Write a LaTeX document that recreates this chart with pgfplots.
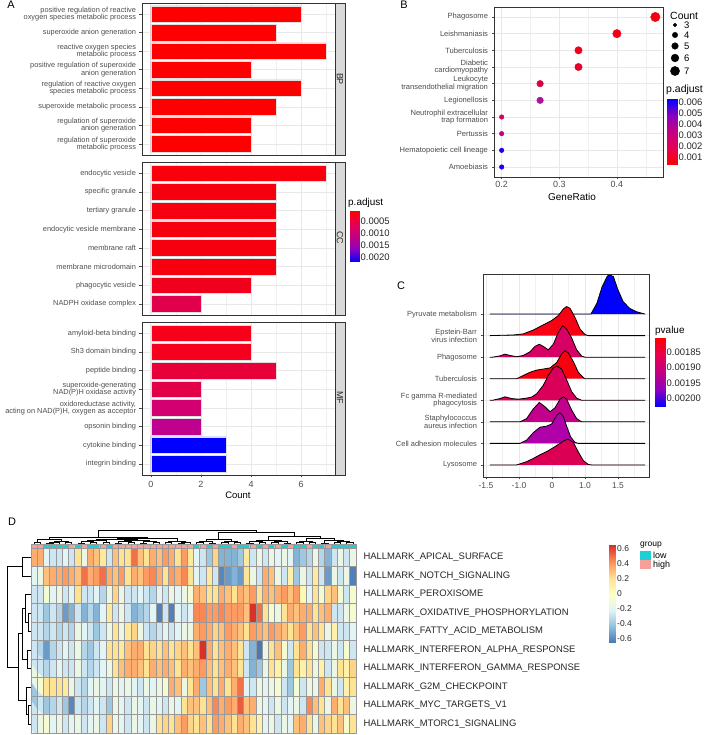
\documentclass[border=0pt]{standalone}
\usepackage{fontspec}
\setmainfont{Liberation Sans}
\usepackage{pgfplots}
\pgfplotsset{compat=1.18}
\newcommand{\fs}[1]{\fontsize{#1}{#1}\selectfont}
\definecolor{cR}{RGB}{255,0,0}
\definecolor{cc1}{RGB}{250,0,12}
\definecolor{cc2}{RGB}{246,0,16}
\definecolor{cc3}{RGB}{240,0,28}
\definecolor{cc4}{RGB}{224,0,75}
\definecolor{mf1}{RGB}{248,0,25}
\definecolor{mf2}{RGB}{245,0,30}
\definecolor{mf3}{RGB}{232,0,58}
\definecolor{mf4}{RGB}{226,0,72}
\definecolor{mf5}{RGB}{210,0,112}
\definecolor{mf6}{RGB}{192,0,142}
\definecolor{cB}{RGB}{0,0,255}
\definecolor{b1}{RGB}{242,0,16}
\definecolor{b2}{RGB}{240,0,20}
\definecolor{b3}{RGB}{236,0,28}
\definecolor{b4}{RGB}{228,0,42}
\definecolor{b5}{RGB}{216,0,64}
\definecolor{b6}{RGB}{170,20,160}
\definecolor{b7}{RGB}{214,0,100}
\definecolor{b8}{RGB}{195,0,135}
\definecolor{b9}{RGB}{25,0,240}
\definecolor{c1}{RGB}{0,0,255}
\definecolor{c2}{RGB}{250,0,20}
\definecolor{c3}{RGB}{215,0,100}
\definecolor{c4}{RGB}{250,0,15}
\definecolor{c5}{RGB}{218,0,90}
\definecolor{c6}{RGB}{195,0,140}
\definecolor{c7}{RGB}{175,0,170}
\definecolor{c8}{RGB}{220,0,85}
\definecolor{lowc}{RGB}{30,208,214}
\definecolor{highc}{RGB}{245,160,152}
\pgfplotsset{
 /pgf/number format/assume math mode=true,
 colormap={heat}{rgb255=(69,117,180) rgb255=(145,191,219) rgb255=(224,243,248) rgb255=(255,255,191) rgb255=(254,224,144) rgb255=(252,141,89) rgb255=(215,48,39)},
 colormap={rb}{rgb255=(255,0,0) rgb255=(230,0,80) rgb255=(195,0,130) rgb255=(140,0,190) rgb255=(0,0,255)},
 gg/.style={scale only axis, anchor=south west, axis line style={draw=black!80, line width=0.7bp},
   grid=both, major grid style={draw=black!9, line width=0.6bp}, minor grid style={draw=black!6, line width=0.35bp},
   tick style={draw=black!70, line width=0.5bp}, major tick length=2.5bp, minor tick length=0pt,
   tick align=outside, xtick pos=bottom, ytick pos=left, ticklabel style={text=black!70}},
 cbar/.style={scale only axis, anchor=south west, xmin=0, xmax=1, xtick=\empty,
   axis line style={draw=none}, tick style={draw=white, line width=0.6bp}, major tick length=2bp,
   tick align=inside, ytick pos=both, yticklabel pos=right,
   yticklabel style={font=\fs{9.5}, text=black!85, inner sep=1.5bp}},
 dend/.style={black, line width=0.5bp, forget plot},
}
\newcommand{\dl}[5]{\addplot[dend] coordinates {(#1,#2) (#1,#5) (#3,#5) (#3,#4)};}
\newcommand{\dr}[5]{\addplot[dend] coordinates {(#2,#1) (#5,#1) (#5,#3) (#4,#3)};}
\begin{document}
\begin{tikzpicture}
% ---------- overlay in pixel coordinates ----------
\begin{axis}[scale only axis, anchor=south west, at={(0bp,0bp)}, width=708bp, height=735bp,
  xmin=0, xmax=708, ymin=0, ymax=735, y dir=reverse, hide axis, clip=false]
 \node[font=\fs{11}] at (axis cs:11,5) {A};
 \node[font=\fs{11}] at (axis cs:404,5) {B};
 \node[font=\fs{11}] at (axis cs:401,286) {C};
 \node[font=\fs{11}] at (axis cs:12,522) {D};
 % strips
 \draw[fill=black!15, draw=black!80, line width=0.7bp] (axis cs:335,3) rectangle (axis cs:345,155);
 \draw[fill=black!15, draw=black!80, line width=0.7bp] (axis cs:335,162) rectangle (axis cs:345,315);
 \draw[fill=black!15, draw=black!80, line width=0.7bp] (axis cs:335,322) rectangle (axis cs:345,475);
 \node[rotate=-90, font=\fs{9}, text=black!85] at (axis cs:340,79) {BP};
 \node[rotate=-90, font=\fs{9}, text=black!85] at (axis cs:340,238) {CC};
 \node[rotate=-90, font=\fs{9}, text=black!85] at (axis cs:340,398) {MF};
 % axis titles
 \node[font=\fs{9.5}] at (axis cs:238,495) {Count};
 \node[font=\fs{10}] at (axis cs:572,197) {GeneRatio};
 % legend A
 \node[anchor=west, font=\fs{10}, inner sep=0pt] at (axis cs:348,203) {p.adjust};
 % legend B
 \node[anchor=west, font=\fs{10.5}, inner sep=0pt] at (axis cs:670,16) {Count};
 \addplot[only marks, mark=*, black, mark size=1.8bp] coordinates {(675,25)};
 \addplot[only marks, mark=*, black, mark size=2.7bp] coordinates {(675,35)};
 \addplot[only marks, mark=*, black, mark size=3.3bp] coordinates {(675,46)};
 \addplot[only marks, mark=*, black, mark size=3.9bp] coordinates {(675,58)};
 \addplot[only marks, mark=*, black, mark size=4.6bp] coordinates {(675,71)};
 \node[anchor=west, font=\fs{9.5}, inner sep=0pt] at (axis cs:684,25) {3};
 \node[anchor=west, font=\fs{9.5}, inner sep=0pt] at (axis cs:684,35) {4};
 \node[anchor=west, font=\fs{9.5}, inner sep=0pt] at (axis cs:684,46) {5};
 \node[anchor=west, font=\fs{9.5}, inner sep=0pt] at (axis cs:684,58) {6};
 \node[anchor=west, font=\fs{9.5}, inner sep=0pt] at (axis cs:684,71) {7};
 \node[anchor=west, font=\fs{10.5}, inner sep=0pt] at (axis cs:666,90) {p.adjust};
 % legend C
 \node[anchor=west, font=\fs{10}, inner sep=0pt] at (axis cs:655,331) {pvalue};
 % legend D
 \node[anchor=west, font=\fs{8.5}, inner sep=0pt] at (axis cs:640,545) {group};
 \draw[fill=lowc, draw=none] (axis cs:640,551) rectangle (axis cs:651,560);
 \draw[fill=highc, draw=none] (axis cs:640,560) rectangle (axis cs:651,569);
 \node[anchor=west, font=\fs{9}, inner sep=0pt] at (axis cs:653,555.5) {low};
 \node[anchor=west, font=\fs{9}, inner sep=0pt] at (axis cs:653,565) {high};
\end{axis}

% ---------- Panel A ----------
\begin{axis}[gg, at={(142bp,580bp)}, width=193bp, height=152bp,
  xmin=-0.35, xmax=7.35, ymin=0.4, ymax=8.6, y dir=reverse,
  xtick={0,2,4,6}, minor xtick={1,3,5,7}, xticklabels={}, xtick style={draw=none},
  ytick={1,...,8},
  yticklabels={{positive regulation of reactive\\oxygen species metabolic process},{superoxide anion generation},{reactive oxygen species\\metabolic process},{positive regulation of superoxide\\anion generation},{regulation of reactive oxygen\\species metabolic process},{superoxide metabolic process},{regulation of superoxide\\anion generation},{regulation of superoxide\\metabolic process}},
  yticklabel style={align=right, font=\fs{7.4}}]
 \addplot[xbar, bar shift=0pt, bar width=0.9, fill=cR, draw=black!12, line width=0.4bp] coordinates {(6,1) (5,2) (7,3) (4,4) (6,5) (5,6) (4,7) (4,8)};
\end{axis}
\begin{axis}[gg, at={(142bp,420bp)}, width=193bp, height=153bp,
  xmin=-0.35, xmax=7.35, ymin=0.4, ymax=8.6, y dir=reverse,
  xtick={0,2,4,6}, minor xtick={1,3,5,7}, xticklabels={}, xtick style={draw=none},
  ytick={1,...,8},
  yticklabels={endocytic vesicle, specific granule, tertiary granule, endocytic vesicle membrane, membrane raft, membrane microdomain, phagocytic vesicle, NADPH oxidase complex},
  yticklabel style={align=right, font=\fs{7.4}}]
 \addplot[xbar, bar shift=0pt, bar width=0.9, fill=cc1, draw=black!12, line width=0.4bp] coordinates {(7,1)};
 \addplot[xbar, bar shift=0pt, bar width=0.9, fill=cc2, draw=black!12, line width=0.4bp] coordinates {(5,2) (5,3) (5,4) (5,5) (5,6)};
 \addplot[xbar, bar shift=0pt, bar width=0.9, fill=cc3, draw=black!12, line width=0.4bp] coordinates {(4,7)};
 \addplot[xbar, bar shift=0pt, bar width=0.9, fill=cc4, draw=black!12, line width=0.4bp] coordinates {(2,8)};
\end{axis}
\begin{axis}[gg, at={(142bp,260bp)}, width=193bp, height=153bp,
  xmin=-0.35, xmax=7.35, ymin=0.4, ymax=8.6, y dir=reverse,
  xtick={0,2,4,6}, minor xtick={1,3,5,7}, xticklabels={0,2,4,6},
  xticklabel style={font=\fs{9}},
  ytick={1,...,8},
  yticklabels={amyloid-beta binding, Sh3 domain binding, peptide binding, {superoxide-generating\\NAD(P)H oxidase activity}, {oxidoreductase activity,\\acting on NAD(P)H, oxygen as acceptor}, opsonin binding, cytokine binding, integrin binding},
  yticklabel style={align=right, font=\fs{7.4}}]
 \addplot[xbar, bar shift=0pt, bar width=0.9, fill=mf1, draw=black!12, line width=0.4bp] coordinates {(4,1)};
 \addplot[xbar, bar shift=0pt, bar width=0.9, fill=mf2, draw=black!12, line width=0.4bp] coordinates {(4,2)};
 \addplot[xbar, bar shift=0pt, bar width=0.9, fill=mf3, draw=black!12, line width=0.4bp] coordinates {(5,3)};
 \addplot[xbar, bar shift=0pt, bar width=0.9, fill=mf4, draw=black!12, line width=0.4bp] coordinates {(2,4)};
 \addplot[xbar, bar shift=0pt, bar width=0.9, fill=mf5, draw=black!12, line width=0.4bp] coordinates {(2,5)};
 \addplot[xbar, bar shift=0pt, bar width=0.9, fill=mf6, draw=black!12, line width=0.4bp] coordinates {(2,6)};
 \addplot[xbar, bar shift=0pt, bar width=0.9, fill=cB, draw=black!12, line width=0.4bp] coordinates {(3,7) (3,8)};
\end{axis}
% colorbar A
\begin{axis}[cbar, at={(350bp,473bp)}, width=9bp, height=51bp, ymin=0.83, ymax=22.1, y dir=reverse,
  ytick={5,10,15,20}, yticklabels={0.0005,0.0010,0.0015,0.0020}]
 \addplot[surf, shader=interp, colormap name=rb, point meta=y, mesh/rows=2] coordinates {(0,0.83) (1,0.83) (0,22.1) (1,22.1)};
\end{axis}

% ---------- Panel B ----------
\begin{axis}[gg, at={(494bp,558bp)}, width=169bp, height=170bp,
  xmin=0.1867, xmax=0.48, ymin=0.4, ymax=10.6, y dir=reverse,
  xtick={0.2,0.3,0.4}, xticklabels={0.2,0.3,0.4}, minor xtick={0.25,0.35,0.45},
  xticklabel style={font=\fs{9}, inner sep=1.5bp},
  ytick={1,...,10},
  yticklabels={Phagosome, Leishmaniasis, Tuberculosis, {Diabetic\\cardiomyopathy}, {Leukocyte\\transendothelial migration}, Legionellosis, {Neutrophil extracellular\\trap formation}, Pertussis, Hematopoietic cell lineage, Amoebiasis},
  yticklabel style={align=right, font=\fs{7.6}}]
 \addplot[only marks, mark=*, color=b1, mark size=4.7bp] coordinates {(0.4667,1)};
 \addplot[only marks, mark=*, color=b2, mark size=4.2bp] coordinates {(0.4,2)};
 \addplot[only marks, mark=*, color=b3, mark size=3.7bp] coordinates {(0.3333,3)};
 \addplot[only marks, mark=*, color=b4, mark size=3.7bp] coordinates {(0.3333,4)};
 \addplot[only marks, mark=*, color=b5, mark size=3.3bp] coordinates {(0.2667,5)};
 \addplot[only marks, mark=*, color=b6, mark size=3.3bp] coordinates {(0.2667,6)};
 \addplot[only marks, mark=*, color=b7, mark size=2.3bp] coordinates {(0.2,7)};
 \addplot[only marks, mark=*, color=b8, mark size=2.3bp] coordinates {(0.2,8)};
 \addplot[only marks, mark=*, color=b9, mark size=2.3bp] coordinates {(0.2,9)};
 \addplot[only marks, mark=*, color=b9, mark size=2.3bp] coordinates {(0.2,10)};
\end{axis}
% colorbar B
\begin{axis}[cbar, at={(667bp,570bp)}, width=10bp, height=66bp, ymin=0.27, ymax=6.27,
  ytick={1,2,3,4,5,6}, yticklabels={0.001,0.002,0.003,0.004,0.005,0.006}]
 \addplot[surf, shader=interp, colormap name=rb, point meta=y, mesh/rows=2] coordinates {(0,0.27) (1,0.27) (0,6.27) (1,6.27)};
\end{axis}

% ---------- Panel C ----------
\begin{axis}[gg, at={(483bp,258bp)}, width=166bp, height=203bp,
  xmin=-1.045, xmax=1.47, ymin=0.44, ymax=9.86,
  xtick={-1,-0.5,0,0.5,1}, xticklabels={-1.5,-1.0,0,1.0,1.5}, minor xtick={-0.75,-0.25,0.25,0.75,1.25},
  xticklabel style={font=\fs{8.5}},
  ytick={1,...,8},
  yticklabels={Lysosome, Cell adhesion molecules, {Staphylococcus\\aureus infection}, {Fc gamma R-mediated\\phagocytosis}, Tuberculosis, Phagosome, {Epstein-Barr\\virus infection}, Pyruvate metabolism},
  yticklabel style={align=right, font=\fs{7.5}}]
 \addplot[fill=c1, draw=black, line width=0.8bp] coordinates {(-0.94,8) (0.59,8) (0.68,8.5) (0.76,9.27) (0.84,9.77) (0.88,9.81) (0.93,9.74) (1.0,9.12) (1.08,8.57) (1.18,8.26) (1.28,8.11) (1.41,8)};
 \addplot[fill=c2, draw=black, line width=0.8bp] coordinates {(-0.94,7) (-0.586,7.03) (-0.435,7.08) (-0.283,7.26) (-0.131,7.5) (-0.005,7.7) (0.096,7.93) (0.172,8.24) (0.222,8.35) (0.273,8.27) (0.348,7.85) (0.424,7.31) (0.5,7.05) (0.55,7) (1.41,7)};
 \addplot[fill=c3, draw=black, line width=0.8bp] coordinates {(-0.94,6) (-0.9,6) (-0.788,6.06) (-0.712,6.14) (-0.636,6.08) (-0.535,6.02) (-0.435,6.08) (-0.333,6.25) (-0.258,6.5) (-0.192,6.6) (-0.131,6.5) (-0.056,6.34) (0.02,6.6) (0.096,7.15) (0.162,7.46) (0.222,7.3) (0.298,6.9) (0.374,6.34) (0.45,6.05) (0.5,6) (1.41,6)};
 \addplot[fill=c4, draw=black, line width=0.8bp] coordinates {(-0.94,5) (-0.535,5) (-0.435,5.15) (-0.333,5.3) (-0.232,5.4) (-0.131,5.45) (-0.03,5.5) (0.071,5.75) (0.146,6.15) (0.197,6.3) (0.247,6.2) (0.323,5.8) (0.399,5.3) (0.475,5.05) (0.5,5) (1.41,5)};
 \addplot[fill=c5, draw=black, line width=0.8bp] coordinates {(-0.94,4) (-0.9,4) (-0.788,4.08) (-0.712,4.16) (-0.61,4.08) (-0.51,4.05) (-0.384,4.1) (-0.308,4.15) (-0.232,4.3) (-0.131,4.7) (-0.056,5.15) (0.02,5.5) (0.081,5.58) (0.146,5.45) (0.222,4.95) (0.298,4.4) (0.374,4.1) (0.45,4) (1.41,4)};
 \addplot[fill=c6, draw=black, line width=0.8bp] coordinates {(-0.94,3) (-0.485,3) (-0.384,3.15) (-0.283,3.6) (-0.192,3.9) (-0.106,3.7) (-0.03,3.47) (0.046,3.65) (0.121,4.05) (0.172,4.16) (0.222,4.05) (0.298,3.55) (0.374,3.15) (0.45,3) (1.41,3)};
 \addplot[fill=c7, draw=black, line width=0.8bp] coordinates {(-0.94,2) (-0.485,2) (-0.384,2.15) (-0.283,2.5) (-0.182,2.75) (-0.08,2.8) (-0.005,2.9) (0.071,3.3) (0.121,3.43) (0.172,3.25) (0.222,2.8) (0.283,2.3) (0.348,2.05) (0.4,2) (1.41,2)};
 \addplot[fill=c8, draw=black, line width=0.8bp] coordinates {(-0.94,1) (-0.535,1) (-0.384,1.15) (-0.283,1.3) (-0.182,1.47) (-0.08,1.62) (0.02,1.8) (0.121,2.0) (0.197,2.15) (0.247,2.19) (0.323,2.05) (0.399,1.6) (0.475,1.2) (0.55,1.02) (0.6,1) (1.41,1)};
\end{axis}
% colorbar C
\begin{axis}[cbar, at={(655bp,328bp)}, width=10bp, height=69bp, ymin=18.04, ymax=20.29, y dir=reverse,
  ytick={18.5,19,19.5,20}, yticklabels={0.00185,0.00190,0.00195,0.00200}]
 \addplot[surf, shader=interp, colormap name=rb, point meta=y, mesh/rows=2] coordinates {(0,18.04) (1,18.04) (0,20.29) (1,20.29)};
\end{axis}

% ---------- Panel D ----------
% top dendrogram
\begin{axis}[scale only axis, anchor=south west, at={(31bp,191bp)}, width=325bp, height=17bp,
  xmin=0.5, xmax=52.5, ymin=0, ymax=17, hide axis, clip=false]
 \dl{1}{0}{2}{0}{1.5} \dl{3}{0}{4}{0}{1.2} \dl{3.5}{1.2}{5}{0}{2.2} \dl{6}{0}{7}{0}{1.5}
 \dl{4.25}{2.2}{6.5}{1.5}{3} \dl{1.5}{1.5}{5.375}{3}{4.5}
 \dl{8}{0}{9}{0}{1.2} \dl{10}{0}{11}{0}{1.6} \dl{8.5}{1.2}{10.5}{1.6}{2.6} \dl{12}{0}{13}{0}{2}
 \dl{9.5}{2.6}{12.5}{2}{3.6}
 \dl{14}{0}{15}{0}{1.2} \dl{16}{0}{17}{0}{1.6} \dl{14.5}{1.2}{16.5}{1.6}{2.4}
 \dl{18}{0}{19}{0}{1.2} \dl{20}{0}{21}{0}{2} \dl{18.5}{1.2}{20.5}{2}{3} \dl{15.5}{2.4}{19.5}{3}{4}
 \dl{22}{0}{23}{0}{1.6} \dl{24}{0}{25}{0}{1.2} \dl{24.5}{1.2}{26}{0}{2.2} \dl{22.5}{1.6}{25.25}{2.2}{3.2}
 \dl{11}{3.6}{17.5}{4}{5} \dl{14.25}{5}{23.875}{3.2}{6} \dl{3.4375}{4.5}{19.0625}{6}{7}
 \dl{27}{0}{28}{0}{1.6} \dl{29}{0}{30}{0}{1.2} \dl{27.5}{1.6}{29.5}{1.2}{2.8}
 \dl{31}{0}{32}{0}{1.6} \dl{33}{0}{34}{0}{2} \dl{31.5}{1.6}{33.5}{2}{3.2} \dl{28.5}{2.8}{32.5}{3.2}{5}
 \dl{35}{0}{36}{0}{1.2} \dl{37}{0}{38}{0}{1.6} \dl{35.5}{1.2}{37.5}{1.6}{2.6}
 \dl{39}{0}{40}{0}{1.6} \dl{41}{0}{42}{0}{1.2} \dl{39.5}{1.6}{41.5}{1.2}{2.8} \dl{36.5}{2.6}{40.5}{2.8}{4.2}
 \dl{43}{0}{44}{0}{1.6} \dl{45}{0}{46}{0}{2} \dl{43.5}{1.6}{45.5}{2}{3.2}
 \dl{47}{0}{48}{0}{1.2} \dl{49}{0}{50}{0}{1.6} \dl{51}{0}{52}{0}{2} \dl{49.5}{1.6}{51.5}{2}{3}
 \dl{47.5}{1.2}{50.5}{3}{4} \dl{44.5}{3.2}{49}{4}{5.5} \dl{38.5}{4.2}{46.75}{5.5}{8}
 \dl{30.5}{5}{42.625}{8}{12} \dl{11.25}{7}{36.5625}{12}{14}
\end{axis}
% group annotation
\begin{axis}[scale only axis, anchor=south west, at={(31bp,187bp)}, width=325bp, height=4bp,
  xmin=0.5, xmax=52.5, ymin=0, ymax=1, axis line style={draw=black!40, line width=0.5bp}, xtick=\empty, ytick=\empty]
 \addplot[ybar, bar shift=0pt, bar width=1, fill=lowc, draw=black!40, line width=0.4bp] coordinates {(3,1) (4,1) (5,1) (6,1) (8,1) (10,1) (11,1) (13,1) (27,1) (29,1) (31,1) (32,1) (34,1) (35,1) (37,1) (39,1) (41,1) (43,1) (44,1) (46,1) (47,1) (49,1) (50,1) (51,1) (52,1)};
 \addplot[ybar, bar shift=0pt, bar width=1, fill=highc, draw=black!40, line width=0.4bp] coordinates {(1,1) (2,1) (7,1) (9,1) (12,1) (14,1) (15,1) (16,1) (17,1) (18,1) (19,1) (20,1) (21,1) (22,1) (23,1) (24,1) (25,1) (26,1) (28,1) (30,1) (33,1) (36,1) (38,1) (40,1) (42,1) (45,1) (48,1)};
\end{axis}
% heatmap
\begin{axis}[scale only axis, anchor=south west, at={(31bp,2bp)}, width=325bp, height=185bp,
  xmin=0.5, xmax=52.5, ymin=0.5, ymax=10.5, y dir=reverse, axis on top,
  axis line style={draw=black!40, line width=0.6bp},
  xtick={0.5,1.5,...,52.5}, xticklabels={}, minor ytick={0.5,1.5,...,10.5},
  xmajorgrids=true, yminorgrids=true, ymajorgrids=false,
  major grid style={draw=black!40, line width=0.6bp}, minor grid style={draw=black!40, line width=0.6bp},
  minor tick length=0pt, major tick length=0pt,
  ytick={1,...,10}, yticklabel pos=right,
  yticklabels={HALLMARK\_APICAL\_SURFACE, HALLMARK\_NOTCH\_SIGNALING, HALLMARK\_PEROXISOME, HALLMARK\_OXIDATIVE\_PHOSPHORYLATION, HALLMARK\_FATTY\_ACID\_METABOLISM, HALLMARK\_INTERFERON\_ALPHA\_RESPONSE, HALLMARK\_INTERFERON\_GAMMA\_RESPONSE, HALLMARK\_G2M\_CHECKPOINT, HALLMARK\_MYC\_TARGETS\_V1, HALLMARK\_MTORC1\_SIGNALING},
  yticklabel style={anchor=west, font=\fs{9.5}, text=black!85, xshift=4bp},
  point meta min=-0.653, point meta max=0.653, colormap name=heat]
 \addplot[matrix plot*, mesh/cols=52, point meta=explicit] table[header=false, row sep=\\, meta index=0, x expr={mod(\coordindex,52)+1}, y expr={floor(\coordindex/52)+1}] {
0.35\\0.35\\-0.2\\-0.27\\-0.27\\-0.2\\-0.27\\0.2\\-0.14\\0.35\\0.3\\0.15\\-0.27\\0.3\\0.2\\0.2\\0.5\\0.3\\0.2\\0.35\\0.3\\0.4\\0.35\\0.2\\0.4\\0.15\\-0.2\\-0.27\\-0.4\\0.25\\-0.47\\-0.47\\-0.47\\-0.4\\0.15\\-0.27\\-0.14\\-0.27\\-0.14\\-0.2\\-0.14\\-0.2\\-0.47\\-0.4\\-0.34\\-0.14\\-0.34\\-0.47\\-0.27\\-0.14\\-0.27\\-0.14\\
-0.2\\-0.14\\0.3\\0.35\\0.35\\0.4\\0.35\\0.3\\0.5\\0.35\\0.4\\0.5\\0.35\\0.3\\0.4\\0.2\\0.35\\0.3\\0.4\\0.45\\0.35\\0.2\\0.4\\0.35\\0.45\\0.2\\-0.2\\-0.27\\0.15\\-0.27\\-0.6\\-0.54\\-0.47\\-0.54\\0.2\\-0.14\\-0.27\\0.35\\0.3\\-0.14\\-0.27\\0.1\\-0.4\\-0.14\\-0.27\\0.15\\-0.27\\-0.54\\-0.14\\-0.27\\-0.14\\-0.62\\
-0.27\\-0.27\\-0.07\\-0.2\\-0.14\\-0.27\\-0.2\\0.2\\-0.27\\-0.27\\-0.2\\-0.34\\-0.14\\0.25\\-0.14\\-0.27\\-0.27\\-0.2\\-0.27\\-0.34\\-0.2\\-0.27\\-0.14\\-0.2\\-0.14\\-0.07\\0.35\\0.3\\0.2\\0.2\\0.35\\0.3\\0.2\\0.35\\0.3\\0.4\\0.2\\0.35\\0.3\\0.35\\0.4\\0.3\\0.4\\0.05\\-0.2\\0.2\\-0.07\\0.25\\0.3\\-0.07\\-0.27\\-0.07\\
-0.27\\-0.27\\-0.4\\-0.27\\-0.34\\-0.54\\-0.47\\-0.27\\-0.47\\-0.34\\-0.47\\-0.2\\0.15\\-0.27\\-0.14\\-0.27\\-0.47\\-0.4\\-0.34\\-0.2\\-0.62\\-0.27\\-0.62\\-0.2\\-0.27\\-0.2\\0.45\\0.45\\0.4\\0.4\\0.45\\0.4\\0.4\\0.4\\0.3\\0.65\\0.5\\0.2\\-0.07\\-0.14\\0.2\\0.35\\0.3\\0.35\\0.35\\0.2\\0.3\\0.35\\-0.27\\-0.27\\-0.14\\-0.07\\
-0.27\\-0.27\\-0.34\\-0.27\\-0.34\\-0.27\\-0.34\\-0.14\\-0.2\\-0.27\\-0.4\\-0.27\\-0.14\\0.2\\-0.14\\0.15\\0.25\\-0.14\\-0.27\\-0.34\\-0.27\\-0.2\\-0.27\\-0.2\\-0.14\\-0.14\\0.35\\0.4\\0.35\\0.25\\0.3\\0.4\\0.35\\0.3\\0.2\\0.4\\0.35\\0.3\\0.4\\0.35\\0.3\\0.2\\0.3\\0.4\\0.2\\0.3\\0.2\\-0.14\\0.1\\-0.27\\-0.27\\-0.2\\
-0.27\\-0.34\\-0.54\\-0.34\\-0.27\\-0.2\\-0.27\\-0.14\\-0.34\\-0.4\\-0.27\\-0.2\\0.2\\0.2\\0.15\\0.3\\0.35\\0.35\\0.2\\0.25\\0.2\\0.3\\0.2\\0.25\\0.3\\0.2\\0.3\\0.65\\0.35\\0.2\\0.3\\0.35\\0.3\\0.2\\-0.27\\-0.47\\-0.64\\-0.14\\0.2\\0.3\\-0.07\\-0.27\\0.2\\0.35\\0.2\\-0.07\\-0.27\\-0.27\\-0.14\\-0.27\\-0.07\\-0.27\\
-0.27\\-0.27\\-0.34\\-0.27\\-0.2\\-0.27\\-0.27\\-0.14\\-0.27\\-0.34\\-0.27\\-0.2\\-0.14\\0.2\\0.3\\0.35\\0.35\\0.3\\0.2\\0.35\\0.3\\0.35\\0.3\\0.2\\0.35\\0.3\\0.35\\0.4\\0.3\\0.2\\0.3\\0.35\\0.3\\0.2\\-0.27\\-0.47\\-0.4\\-0.14\\0.2\\0.1\\-0.14\\-0.4\\0.2\\0.1\\0.2\\-0.14\\0.1\\-0.27\\-0.14\\0.2\\0.1\\0.25\\
-0.14\\-0.07\\0.2\\0.2\\0.2\\0.15\\-0.14\\-0.27\\-0.34\\-0.2\\-0.14\\-0.2\\-0.27\\-0.14\\-0.2\\-0.14\\-0.2\\-0.27\\-0.14\\-0.2\\-0.14\\-0.07\\0.35\\0.3\\-0.14\\0.2\\0.35\\-0.4\\0.3\\0.2\\0.35\\0.2\\0.35\\0.5\\-0.2\\-0.27\\-0.14\\-0.2\\-0.14\\-0.07\\-0.27\\-0.4\\-0.07\\-0.27\\-0.14\\-0.14\\0.35\\0.2\\-0.14\\-0.27\\0.1\\0.2\\
-0.4\\-0.27\\-0.4\\-0.34\\-0.27\\-0.4\\-0.6\\-0.27\\-0.34\\-0.27\\-0.2\\-0.27\\-0.4\\-0.14\\-0.2\\-0.27\\-0.14\\-0.2\\-0.27\\-0.14\\-0.2\\-0.27\\-0.14\\-0.2\\0.2\\0.3\\0.3\\0.2\\0.3\\0.45\\0.35\\0.4\\0.35\\0.55\\0.3\\0.35\\-0.14\\-0.2\\-0.27\\-0.14\\-0.27\\-0.2\\-0.14\\-0.27\\0.45\\0.3\\0.2\\-0.14\\0.35\\0.2\\0.3\\-0.14\\
-0.27\\-0.14\\-0.07\\-0.2\\-0.14\\-0.27\\-0.2\\-0.14\\-0.27\\-0.2\\-0.14\\-0.27\\0.25\\-0.14\\-0.2\\-0.27\\-0.14\\-0.2\\-0.27\\-0.14\\0.2\\0.25\\0.2\\0.3\\0.4\\0.25\\0.2\\0.3\\0.2\\0.4\\0.35\\0.3\\0.2\\0.35\\0.3\\0.2\\0.1\\-0.2\\-0.14\\-0.27\\-0.14\\-0.2\\0.3\\0.35\\0.2\\-0.14\\0.3\\0.25\\0.2\\0.3\\-0.07\\0.2\\
};
\end{axis}
% left dendrogram
\begin{axis}[scale only axis, anchor=south west, at={(5bp,2bp)}, width=26bp, height=185bp,
  xmin=0, xmax=26, x dir=reverse, ymin=0.5, ymax=10.5, y dir=reverse, hide axis, clip=false]
 \dr{1}{0}{2}{0}{9} \dr{4}{0}{5}{0}{3} \dr{3}{0}{4.5}{3}{6} \dr{6}{0}{7}{0}{4}
 \dr{3.75}{6}{6.5}{4}{9} \dr{9}{0}{10}{0}{3} \dr{8}{0}{9.5}{3}{5} \dr{5.125}{9}{8.75}{5}{13}
 \dr{1.5}{9}{6.9375}{13}{24}
\end{axis}
% colorbar D
\begin{axis}[cbar, at={(609bp,92bp)}, width=6bp, height=98bp, ymin=-0.653, ymax=0.653,
  tick style={draw=none}, yticklabel style={font=\fs{8.5}, inner sep=2bp},
  ytick={-0.6,-0.4,-0.2,0,0.2,0.4,0.6}, yticklabels={-0.6,-0.4,-0.2,0,0.2,0.4,0.6}]
 \addplot[surf, shader=interp, colormap name=heat, point meta=y, mesh/rows=2] coordinates {(0,-0.653) (1,-0.653) (0,0.653) (1,0.653)};
\end{axis}
\pgfresetboundingbox
\useasboundingbox (0,0) rectangle (708bp,735bp);
\end{tikzpicture}
\end{document}
